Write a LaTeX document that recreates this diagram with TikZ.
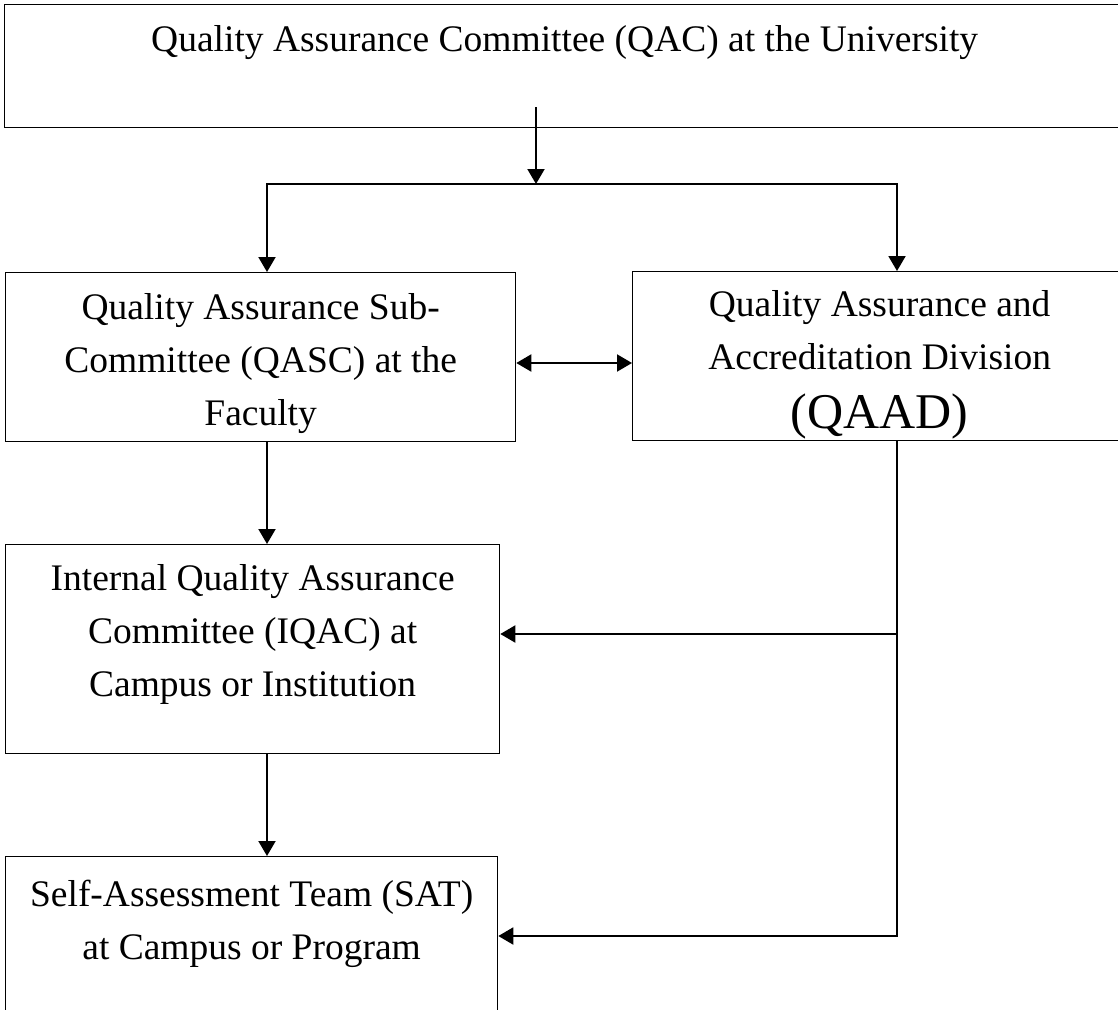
\documentclass[tikz,border=0pt]{standalone}
\usepackage{fontspec}
\setmainfont{Liberation Serif}
\usetikzlibrary{positioning,arrows.meta}

\tikzset{
  box/.style={draw, line width=1.3pt, anchor=north west, inner sep=0pt},
  txt/.style={align=center, inner sep=0pt, font=\fontsize{37.5}{53}\selectfont},
  link/.style={line width=2pt},
  arr/.style={link, ->},
}

\begin{document}
\begin{tikzpicture}[x=1pt, y=-1pt, >={Triangle[length=15pt,width=17pt]}]
    \useasboundingbox (0,0) rectangle (1118,1009);
    \node[box, minimum width=1120pt, minimum height=123pt] (qac) at (4,4) {};
    \node[box, minimum width=510pt, minimum height=169pt] (qasc) at (5,272) {};
    \node[box, minimum width=494pt, minimum height=169pt] (qaad) at (632,271) {};
    \node[box, minimum width=494pt, minimum height=209pt] (iqac) at (5,544) {};
    \node[box, minimum width=492pt, minimum height=160pt] (sat) at (5,856) {};
    \node[txt, below=21pt of qac.north] (qactxt) {Quality Assurance Committee (QAC) at the University};
    \node[txt, below=21pt of qasc.north] (qasctxt) {Quality Assurance Sub-\\Committee (QASC) at the\\Faculty};
    \node[txt, below=19pt of qaad.north] (qaadtxt) {Quality Assurance and\\Accreditation Division\\[6pt]{\fontsize{50}{56}\selectfont (QAAD)}};
    \node[txt, below=20pt of iqac.north] (iqactxt) {Internal Quality Assurance\\Committee (IQAC) at\\Campus or Institution};
    \node[txt, below=24pt of sat.north] (sattxt) {Self-Assessment Team (SAT)\\at Campus or Program};
    \coordinate (qacout) at (536,107);
    \coordinate (split) at (536,184);
    \coordinate (splitl) at (267,184);
    \coordinate (splitr) at (897,184);
    \coordinate (both) at (0,363);
    \coordinate (toiqac) at (897,634);
    \coordinate (tosat) at (897,936);
    \draw[arr] (qacout) -- (split);
    \draw[arr] (split) -| (qasc.north -| splitl);
    \draw[arr] (split) -| (qaad.north -| splitr);
    \draw[link, <->] (qasc.east |- both) -- (qaad.west |- both);
    \draw[arr] (qasc.south -| splitl) -- (iqac.north -| splitl);
    \draw[arr] (iqac.south -| splitl) -- (sat.north -| splitl);
    \draw[arr] (qaad.south -| splitr) |- (sat.east |- tosat);
    \draw[arr] (toiqac) -- (iqac.east |- toiqac);
\end{tikzpicture}
\end{document}
